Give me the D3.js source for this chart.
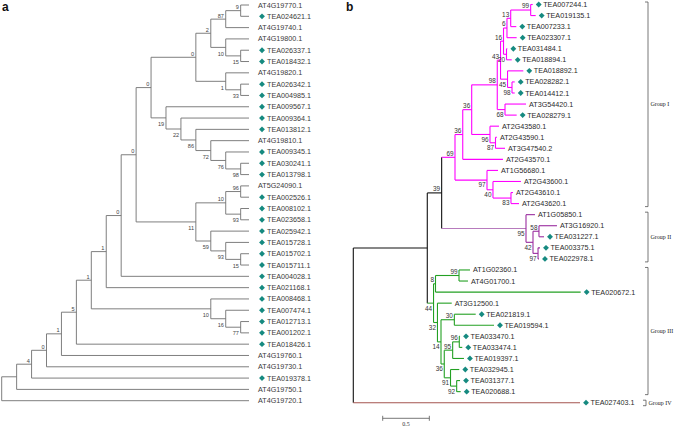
<!DOCTYPE html>
<html><head><meta charset="utf-8">
<script src="https://cdn.jsdelivr.net/npm/d3@7"></script>
<style>body{margin:0;background:#fff}svg{display:block}</style>
</head><body>
<svg id="chart" width="676" height="427"></svg>
<script>
// ---------- DATA ----------
// Panel a: topology only (bootstrap values as internal labels)
const treeA = "(((((((((((((((AT4G19770.1,TEA024621.1)9,AT4G19740.1)87,(AT4G19800.1,(TEA026337.1,TEA018432.1)15)10)2,(AT4G19820.1,(TEA026342.1,TEA004985.1)33)1)0,(TEA009567.1,(TEA009364.1,(TEA013812.1,(AT4G19810.1,(TEA009345.1,(TEA030241.1,TEA013798.1)98)76)72)86)22)19)0,(((AT5G24090.1,TEA002526.1)96,(TEA008102.1,TEA023658.1)93)10,(TEA025942.1,(TEA015728.1,(TEA015702.1,TEA015711.1)15)93)59)11)0,TEA004028.1)0,TEA021168.1)1,(TEA008468.1,(TEA007474.1,(TEA012713.1,TEA001202.1)77)16)10)1,TEA018426.1)5,AT4G19760.1)1,AT4G19730.1)0,TEA019378.1)4,AT4G19750.1),AT4G19720.1);";
// Panel b: branch lengths + bootstrap values
const treeB = "((((((((((((TEA007244.1:0.022,TEA019135.1:0.054)99:0.214,TEA007233.1:0.060)13:0.040,TEA023307.1:0.104)6:0.037,(TEA031484.1:0.009,TEA018894.1:0.056)20:0.032)16:0.032,(TEA018892.1:0.169,(TEA028282.1:0.029,TEA014412.1:0.029)98:0.048)45:0.075)43:0.035,(AT3G54420.1:0.225,TEA028279.1:0.125)68:0.083)98:0.274,(AT2G43580.1:0.097,(AT2G43590.1:0.016,AT3G47540.2:0.102)87:0.059)96:0.196)36:0.096,AT2G43570.1:0.431)36:0.083,(AT1G56680.1:0.118,(AT2G43600.1:0.300,(AT2G43610.1:0.022,AT2G43620.1:0.086)83:0.193)40:0.064)97:0.343)69:0.143,(AT1G05850.1:0.096,((AT3G16920.1:0.193,TEA031227.1:0.054)58:0.064,(TEA003375.1:0.021,TEA022978.1:0.010)97:0.054)42:0.075)95:0.904)39:0.154,(((AT1G02360.1:0.118,AT4G01700.1:0.096)99:0.252,TEA020672.1:1.556)8:0.021,(AT3G12500.1:0.153,((TEA021819.1:0.229,TEA019594.1:0.425)30:0.143,(((TEA033470.1:0.008,TEA033474.1:0.032)96:0.071,TEA019397.1:0.121)95:0.090,(TEA032945.1:0.094,(TEA031377.1:0.036,TEA020688.1:0.043)92:0.066)91:0.067)36:0.035)14:0.038)32:0.042)44:0.067):0.793,TEA027403.1:2.430);";

const groupI = ["TEA007244.1","TEA019135.1","TEA007233.1","TEA023307.1","TEA031484.1","TEA018894.1","TEA018892.1","TEA028282.1","TEA014412.1","AT3G54420.1","TEA028279.1","AT2G43580.1","AT2G43590.1","AT3G47540.2","AT2G43570.1","AT1G56680.1","AT2G43600.1","AT2G43610.1","AT2G43620.1"];
const groupII = ["AT1G05850.1","AT3G16920.1","TEA031227.1","TEA003375.1","TEA022978.1"];
const groupIII = ["AT1G02360.1","AT4G01700.1","TEA020672.1","AT3G12500.1","TEA021819.1","TEA019594.1","TEA033470.1","TEA033474.1","TEA019397.1","TEA032945.1","TEA031377.1","TEA020688.1"];
const groupIV = ["TEA027403.1"];
const groupNames = ["Group I","Group II","Group III","Group IV"];
const groupColors = ["#ff00ff","#9a2c9f","#23a023","#a4544f"];
const groupStemColors = ["#ff00ff","#b77bbd","#3aa63a","#a4544f"];
const scaleBarValue = 0.5;
const scaleBarLabel = "0.5";
const panelLabels = ["a","b"];

// ---------- HELPERS ----------
function parseNewick(s){
  let i=0;
  function node(){
    const n={};
    if(s[i]==='('){
      n.children=[]; i++;
      n.children.push(node());
      while(s[i]===','){ i++; n.children.push(node()); }
      i++;
    }
    let name=''; while(i<s.length && !',():;'.includes(s[i])) name+=s[i++];
    n.name=name.trim();
    if(s[i]===':'){ i++; let l=''; while(i<s.length && !',();'.includes(s[i])) l+=s[i++]; n.length=+l; }
    else n.length=0;
    return n;
  }
  return node();
}
const svg = d3.select("#chart");
const teal = "#168a80";
const diamond = d3.symbol().type(d3.symbolSquare).size(17);
const sans = "Arial, 'Liberation Sans', Helvetica, sans-serif";
const serif = "'Liberation Serif','Times New Roman',serif";

// ---------- PANEL A ----------
const rootA = d3.hierarchy(parseNewick(treeA));
const leavesA = rootA.leaves();
const xA = d3.scaleLinear().domain([rootA.height, 0]).range([1.7, 255.6]);
const yA = d3.scaleLinear().domain([0, leavesA.length-1]).range([5, 400.7]);
const tipA = xA(0) - 6.6;
leavesA.forEach((l,i)=>{ l.py = yA(i); l.px = tipA; });
rootA.eachAfter(n=>{ if(n.children){ n.py=(n.children[0].py+n.children[n.children.length-1].py)/2; n.px=xA(n.height);} });

const gA = svg.append("g");
const lineColA = "#707070";
rootA.descendants().forEach(n=>{
  if(n.parent) gA.append("line").attr("x1",n.parent.px).attr("x2",n.px).attr("y1",n.py).attr("y2",n.py)
      .attr("stroke",lineColA).attr("stroke-width",0.9);
  if(n.children) gA.append("line").attr("x1",n.px).attr("x2",n.px)
      .attr("y1",n.children[0].py).attr("y2",n.children[n.children.length-1].py)
      .attr("stroke",lineColA).attr("stroke-width",0.9);
});
rootA.descendants().filter(n=>n.children && n.data.name!=="" && n.parent).forEach(n=>{
  const first = n.parent.children[0]===n;
  gA.append("text").attr("x",n.px-1.8).attr("y", first? n.py-1.6 : n.py+8.2)
    .attr("text-anchor","end").attr("font-family",sans).attr("font-size",5.6).attr("fill","#444")
    .text(n.data.name);
});
leavesA.forEach(l=>{
  const isTea = l.data.name.startsWith("TEA");
  if(isTea) gA.append("path").attr("d",diamond).attr("fill",teal)
      .attr("transform",`translate(${l.px+13},${l.py}) rotate(45)`);
  gA.append("text").attr("x", l.px + (isTea?18:9)).attr("y",l.py).attr("dy","0.35em")
    .attr("font-family",sans).attr("font-size",7.2).attr("fill","#3a3a3a").text(l.data.name);
});

// ---------- PANEL B ----------
const rootB = d3.hierarchy(parseNewick(treeB));
const leavesB = rootB.leaves();
const xB = d3.scaleLinear().domain([0, 1]).range([353.3, 446.6]);
const yB = d3.scaleLinear().domain([0, leavesB.length-1]).range([4.5, 402.7]);
rootB.each(n=>{ n.dist = n.parent ? n.parent.dist + n.data.length : 0; n.px = xB(n.dist); });
leavesB.forEach((l,i)=>{ l.py = yB(i); });
rootB.eachAfter(n=>{ if(n.children) n.py=(n.children[0].py+n.children[n.children.length-1].py)/2; });
const groups = [groupI, groupII, groupIII, groupIV];
function groupOf(n){
  const names = n.leaves().map(l=>l.data.name);
  for(let g=0; g<groups.length; g++) if(names.every(nm=>groups[g].includes(nm))) return g;
  return -1;
}
rootB.each(n=>{ n.grp = groupOf(n); });
function colorOf(n, stem){
  if(n.grp<0) return "#111";
  if(stem && (!n.parent || n.parent.grp!==n.grp)) return groupStemColors[n.grp];
  return groupColors[n.grp];
}
const gB = svg.append("g");
rootB.descendants().forEach(n=>{
  if(n.parent) gB.append("line").attr("x1",n.parent.px).attr("x2",n.px).attr("y1",n.py).attr("y2",n.py)
      .attr("stroke",colorOf(n,true)).attr("stroke-width",1.1);
  if(n.children) gB.append("line").attr("x1",n.px).attr("x2",n.px)
      .attr("y1",n.children[0].py).attr("y2",n.children[n.children.length-1].py)
      .attr("stroke",colorOf(n,false)).attr("stroke-width",1.1);
});
rootB.descendants().filter(n=>n.children && n.data.name!=="" && n.parent).forEach(n=>{
  const first = n.parent.children[0]===n;
  gB.append("text").attr("x",n.px-1.5).attr("y", first? n.py-1.6 : n.py+7.4)
    .attr("text-anchor","end").attr("font-family",sans).attr("font-size",6.4).attr("fill","#333")
    .text(n.data.name);
});
leavesB.forEach(l=>{
  const isTea = l.data.name.startsWith("TEA");
  if(isTea) gB.append("path").attr("d",diamond).attr("fill",teal)
      .attr("transform",`translate(${l.px+6},${l.py}) rotate(45)`);
  gB.append("text").attr("x", l.px + (isTea?10.5:3)).attr("y",l.py).attr("dy","0.35em")
    .attr("font-family",sans).attr("font-size",7.2).attr("fill","#2a2a2a").text(l.data.name);
});

// group brackets
const brX = 648;
groups.forEach((g,gi)=>{
  const ys = leavesB.filter(l=>g.includes(l.data.name)).map(l=>l.py);
  const y0 = d3.min(ys)-2.5, y1 = d3.max(ys)+3;
  const bx = gi===3 ? brX-2 : brX;
  gB.append("path").attr("d",`M${bx-3},${y0}H${bx}V${y1}H${bx-3}`)
    .attr("fill","none").attr("stroke","#555").attr("stroke-width",0.8);
  gB.append("text").attr("x",bx+2.5).attr("y",(y0+y1)/2).attr("dy","0.35em")
    .attr("font-family",serif).attr("font-size",6).attr("fill","#222").text(groupNames[gi]);
});

// scale bar
const sb0 = 0.315;
const sbY = 418.3;
const sbx0 = xB(sb0), sbx1 = xB(sb0+scaleBarValue);
gB.append("path").attr("d",`M${sbx0},${sbY-2.5}V${sbY+2.5}M${sbx0},${sbY}H${sbx1}M${sbx1},${sbY-2.5}V${sbY+2.5}`)
  .attr("fill","none").attr("stroke","#555").attr("stroke-width",0.8);
gB.append("text").attr("x",(sbx0+sbx1)/2).attr("y",sbY+8).attr("text-anchor","middle")
  .attr("font-family",serif).attr("font-size",6).attr("fill","#333").text(scaleBarLabel);

// panel labels
svg.append("text").attr("x",2).attr("y",11).attr("font-family",sans).attr("font-weight","bold")
  .attr("font-size",12).attr("fill","#111").text(panelLabels[0]);
svg.append("text").attr("x",346).attr("y",11).attr("font-family",sans).attr("font-weight","bold")
  .attr("font-size",12).attr("fill","#111").text(panelLabels[1]);
</script>
</body></html>
